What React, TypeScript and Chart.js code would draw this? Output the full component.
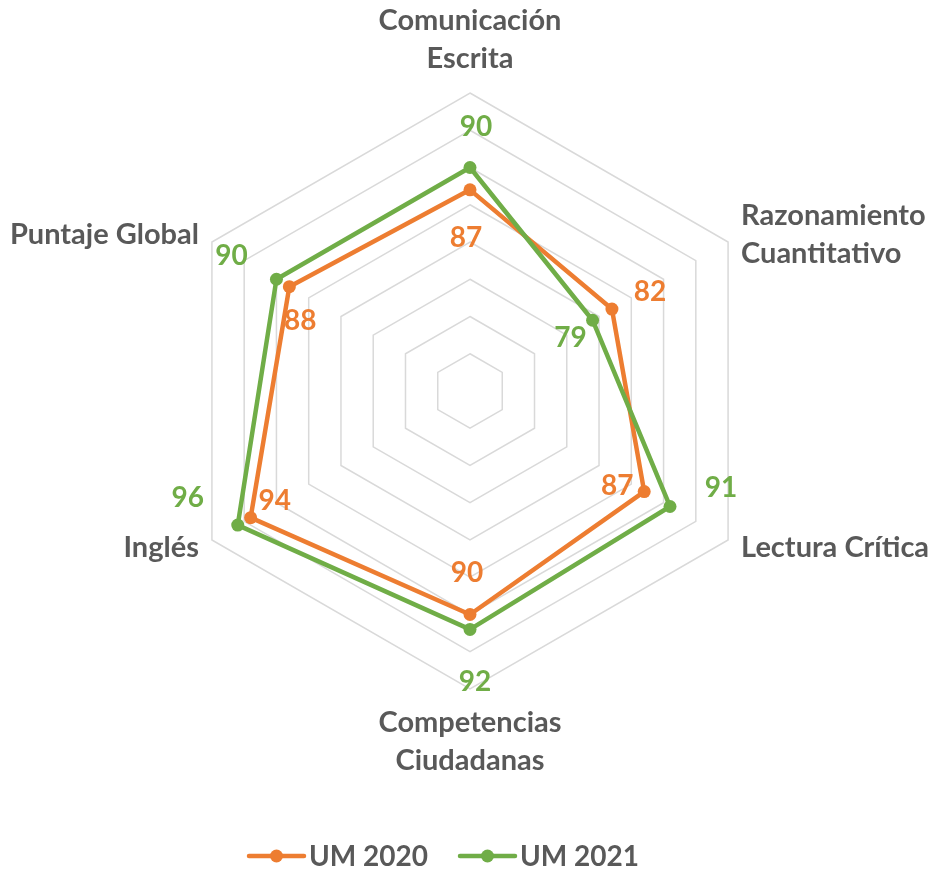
import React, { useEffect, useRef } from "react";
import { Chart, registerables } from "chart.js";
Chart.register(...registerables);

// ---- data ----
const categories: string[][] = [
  ["Comunicación", "Escrita"],
  ["Razonamiento", "Cuantitativo"],
  ["Lectura Crítica"],
  ["Competencias", "Ciudadanas"],
  ["Inglés"],
  ["Puntaje Global"],
];
const seriesNames = ["UM 2020", "UM 2021"];
const um2020 = [87, 82, 87, 90, 94, 88];
const um2021 = [90, 79, 91, 92, 96, 90];
const scaleMin = 60;
const scaleMax = 100;
const scaleStep = 5;

// ---- styling ----
const ORANGE = "#ED7D31";
const GREEN = "#70AD47";
const TEXT = "#595959";
const FONT = "Lato, 'Open Sans', sans-serif";

// data-label placement (pixel offset from each point)
const labelOffsets2020 = [[-4, 48], [38, -17], [-27, -6], [-3, -42], [24, -17], [11, 34]];
const labelOffsets2021 = [[6, -41], [-22, 18], [51, -19], [5, 53], [-50, -27], [-45, -23]];

const axisLabelPlugin = {
  id: "axisLabels",
  afterDraw(chart: any) {
    const ctx = chart.ctx;
    const scale = chart.scales.r;
    const lineH = 38;
    ctx.save();
    ctx.fillStyle = TEXT;
    ctx.font = `bold 29px ${FONT}`;
    ctx.textBaseline = "middle";
    (chart.data.labels as any[]).forEach((lab, i) => {
      const lines = Array.isArray(lab) ? lab : [lab];
      const p = scale.getPointPosition(i, scale.drawingArea + 15);
      const dx = p.x - scale.xCenter;
      const dy = p.y - scale.yCenter;
      let align: CanvasTextAlign = "center";
      if (dx > 1) align = "left";
      else if (dx < -1) align = "right";
      ctx.textAlign = align;
      let firstY: number;
      if (Math.abs(dx) <= 1 && dy < 0) {
        firstY = p.y - lineH / 2 - (lines.length - 1) * lineH;
      } else if (Math.abs(dx) <= 1 && dy > 0) {
        firstY = p.y + lineH / 2;
      } else {
        firstY = p.y - ((lines.length - 1) * lineH) / 2;
      }
      lines.forEach((ln: string, k: number) => {
        ctx.fillText(ln, p.x, firstY + k * lineH);
      });
    });
    ctx.restore();
  },
};

const dataLabelPlugin = {
  id: "dataLabels",
  afterDatasetsDraw(chart: any) {
    const ctx = chart.ctx;
    ctx.save();
    ctx.font = `bold 28px ${FONT}`;
    ctx.textAlign = "center";
    ctx.textBaseline = "middle";
    chart.data.datasets.forEach((ds: any, di: number) => {
      const meta = chart.getDatasetMeta(di);
      ctx.fillStyle = ds.borderColor;
      meta.data.forEach((pt: any, i: number) => {
        const off = ds.labelOffsets[i];
        ctx.fillText(String(ds.data[i]), pt.x + off[0], pt.y + off[1]);
      });
    });
    ctx.restore();
  },
};

const legendPlugin = {
  id: "customLegend",
  afterDraw(chart: any) {
    const ctx = chart.ctx;
    ctx.save();
    ctx.font = `bold 28px ${FONT}`;
    ctx.textBaseline = "middle";
    ctx.textAlign = "left";
    const lineLen = 55;
    const gap = 5;
    const itemGap = 32;
    const items = chart.data.datasets.map((ds: any) => ({
      text: ds.label,
      color: ds.borderColor,
      w: lineLen + gap + ctx.measureText(ds.label).width,
    }));
    const total = items.reduce((s: number, it: any) => s + it.w, 0) + itemGap * (items.length - 1);
    let x = 444 - total / 2;
    const y = 856;
    items.forEach((it: any) => {
      ctx.strokeStyle = it.color;
      ctx.lineWidth = 4.5;
      ctx.lineCap = "round";
      ctx.beginPath();
      ctx.moveTo(x, y);
      ctx.lineTo(x + lineLen, y);
      ctx.stroke();
      ctx.fillStyle = it.color;
      ctx.beginPath();
      ctx.arc(x + lineLen / 2, y, 6.5, 0, Math.PI * 2);
      ctx.fill();
      ctx.fillStyle = TEXT;
      ctx.fillText(it.text, x + lineLen + gap, y + 1);
      x += it.w + itemGap;
    });
    ctx.restore();
  },
};

export default function App() {
  const ref = useRef<HTMLCanvasElement | null>(null);
  useEffect(() => {
    if (!ref.current) return;
    const chart = new Chart(ref.current, {
      type: "radar",
      data: {
        labels: categories as any,
        datasets: [
          {
            label: seriesNames[0],
            data: um2020,
            borderColor: ORANGE,
            backgroundColor: "transparent",
            fill: false,
            borderWidth: 4.5,
            borderJoinStyle: "round",
            pointRadius: 6.5,
            pointBackgroundColor: ORANGE,
            pointBorderColor: ORANGE,
            pointBorderWidth: 0,
            order: 1,
            labelOffsets: labelOffsets2020,
          } as any,
          {
            label: seriesNames[1],
            data: um2021,
            borderColor: GREEN,
            backgroundColor: "transparent",
            fill: false,
            borderWidth: 4.5,
            borderJoinStyle: "round",
            pointRadius: 6.5,
            pointBackgroundColor: GREEN,
            pointBorderColor: GREEN,
            pointBorderWidth: 0,
            order: 0,
            labelOffsets: labelOffsets2021,
          } as any,
        ],
      },
      options: {
        responsive: false,
        animation: false,
        layout: { padding: { left: 172, right: 169, top: 93, bottom: 180 } },
        plugins: {
          legend: { display: false },
          tooltip: { enabled: false },
        },
        elements: { line: { tension: 0 } },
        scales: {
          r: {
            min: scaleMin,
            max: scaleMax,
            ticks: { display: false, stepSize: scaleStep },
            grid: { color: "#d9d9d9", lineWidth: 1.5 },
            angleLines: { display: false },
            pointLabels: { display: false },
          },
        },
      },
      plugins: [dataLabelPlugin, axisLabelPlugin, legendPlugin],
    });
    return () => chart.destroy();
  }, []);
  return (
    <div style={{ position: "absolute", left: 0, top: 0, width: 937, height: 869, background: "#ffffff" }}>
      <canvas ref={ref} width={937} height={869} />
    </div>
  );
}
